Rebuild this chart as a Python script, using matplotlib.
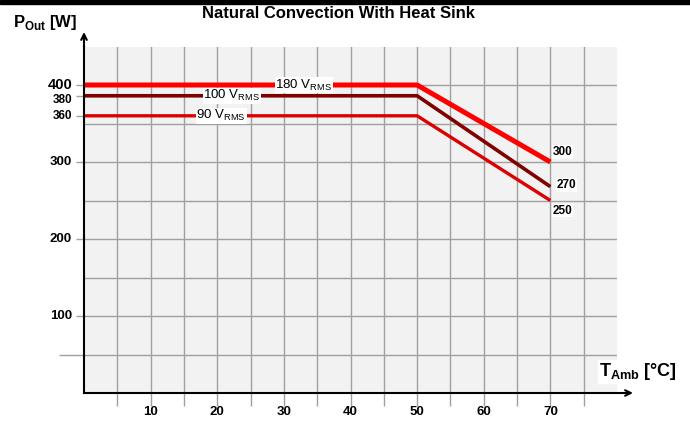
import matplotlib
matplotlib.use("Agg")
import matplotlib.pyplot as plt
from matplotlib.patches import Rectangle

plt.rcParams['font.family'] = ['Liberation Sans', 'DejaVu Sans']
plt.rcParams['mathtext.fontset'] = 'custom'
plt.rcParams['mathtext.rm'] = 'Liberation Sans'
plt.rcParams['mathtext.bf'] = 'Liberation Sans:bold'

# data
temps = [0, 50, 70]
p_180 = [400, 400, 300]
p_100 = [386, 386, 268]
p_90 = [360, 360, 250]
x_ticks = [10, 20, 30, 40, 50, 60, 70]
y_ticks = [100, 200, 300, 360, 380, 400]
end_labels = ["300", "270", "250"]

W, H = 690, 421
fig = plt.figure(figsize=(W / 100, H / 100), dpi=100)
fig.patch.set_facecolor('white')
fig.patches.append(Rectangle((0, 1 - 3.5 / H), 1, 3.5 / H, transform=fig.transFigure,
                             color='black', zorder=0))

ax = fig.add_axes([84 / W, 1 - 393 / H, (617 - 84) / W, (393 - 46.5) / H])
ax.set_facecolor('#f2f2f2')
ax.set_xlim(0, 80)
ax.set_ylim(0, 450)

gcol = '#a0a0a0'
for xv in range(5, 80, 5):
    ax.axvline(xv, color=gcol, lw=1.0, zorder=1)
for yv in range(50, 450, 50):
    ax.axhline(yv, color=gcol, lw=1.0, zorder=1)

# tick marks extended like gridlines outside
ax.set_xticks(list(range(5, 80, 5)))
ax.set_xticklabels([str(v) if v in x_ticks else '' for v in range(5, 80, 5)])
ax.tick_params(axis='x', length=9, width=1.0, color=gcol, pad=0.5,
               labelsize=9.5)
for lab in ax.get_xticklabels():
    lab.set_fontweight('bold')

ax.set_yticks([50, 100, 200, 300, 360, 386, 400])
ax.set_yticklabels(['', '', '', '', '', '', ''])
ax.tick_params(axis='y', length=6, width=1.0, color=gcol)
ax.yaxis.get_major_ticks()[0].tick1line.set_markersize(18)

ylab = {100: ('100', 9.5), 200: ('200', 9.5), 300: ('300', 9.5), 360: ('360', 8.5),
        380: ('380', 8.5), 400: ('400', 10.5)}
for v in y_ticks:
    t, s = ylab[v]
    ax.annotate(t, xy=(0, v), xycoords=('axes fraction', 'data'),
                xytext=(-12, 0), textcoords='offset pixels',
                ha='right', va='center', fontsize=s, fontweight='bold')

for sp in ['top', 'right']:
    ax.spines[sp].set_visible(False)
for sp in ['left', 'bottom']:
    ax.spines[sp].set_linewidth(1.5)
    ax.spines[sp].set_color('black')
    ax.spines[sp].set_zorder(5)

# arrows
ax.annotate('', xy=(633 / W, 1 - 393 / H), xytext=(617 / W, 1 - 393 / H),
            xycoords='figure fraction', textcoords='figure fraction',
            arrowprops=dict(arrowstyle='->', lw=1.5, color='black',
                            shrinkA=0, shrinkB=0))
ax.annotate('', xy=(84 / W, 1 - 32 / H), xytext=(84 / W, 1 - 47 / H),
            xycoords='figure fraction', textcoords='figure fraction',
            arrowprops=dict(arrowstyle='->', lw=1.5, color='black',
                            shrinkA=0, shrinkB=0))

ax.plot(temps, p_180, color='#ff0000', lw=3.6, zorder=3, solid_capstyle='butt')
ax.plot(temps, p_100, color='#800000', lw=2.6, zorder=3, solid_capstyle='butt')
ax.plot(temps, p_90, color='#dd0000', lw=2.4, zorder=3, solid_capstyle='butt')

bb = dict(facecolor='white', edgecolor='none', pad=0.5)
ax.text(33, 400, r'180 V$_{\mathrm{RMS}}$', fontsize=9.5, ha='center', va='center',
        bbox=bb, zorder=4)
ax.text(22.2, 386, r'100 V$_{\mathrm{RMS}}$', fontsize=9.5, ha='center', va='center',
        bbox=bb, zorder=4)
ax.text(20.6, 360, r'90 V$_{\mathrm{RMS}}$', fontsize=9.5, ha='center', va='center',
        bbox=bb, zorder=4)

ax.text(70.4, 313, end_labels[0], fontsize=8.5, fontweight='bold', ha='left',
        va='center', bbox=bb, zorder=4)
ax.text(71.0, 270, end_labels[1], fontsize=8.5, fontweight='bold', ha='left',
        va='center', bbox=bb, zorder=4)
ax.text(70.4, 237, end_labels[2], fontsize=8.5, fontweight='bold', ha='left',
        va='center', bbox=bb, zorder=4)

fig.text(338 / W, 1 - 13 / H, 'Natural Convection With Heat Sink', fontsize=12,
         fontweight='bold', ha='center', va='center')
fig.text(13 / W, 1 - 23 / H, r'P$_{\mathbf{Out}}$ [W]', fontsize=12,
         fontweight='bold', ha='left', va='center')
fig.text(599 / W, 1 - 372 / H, r'T$_{\mathbf{Amb}}$ [°C]', fontsize=13,
         fontweight='bold', ha='left', va='center',
         bbox=dict(facecolor='white', edgecolor='none', pad=1))

fig.savefig('out.png', dpi=100)
